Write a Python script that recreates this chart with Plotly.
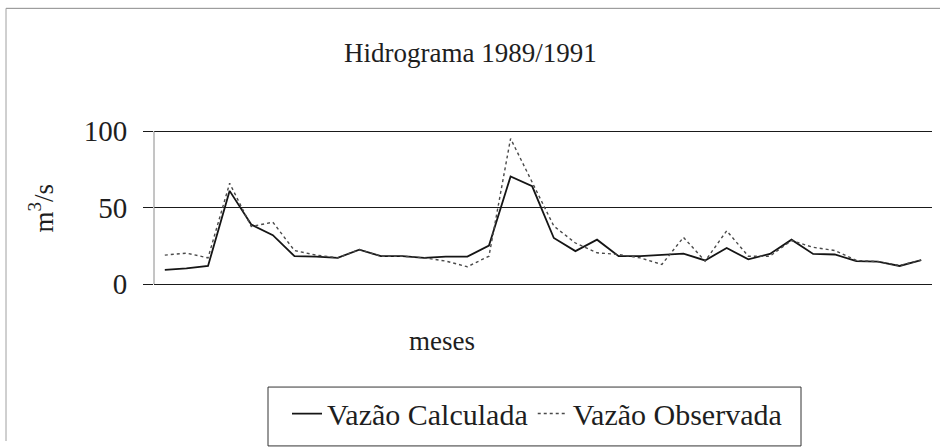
import plotly.graph_objects as go

# Monthly discharge, 1989-1991 (36 months)
meses = list(range(1, 37))

vazao_calculada = [9.3, 10.3, 11.9, 61.0, 39.0, 32.0, 18.3, 18.0, 17.2, 22.6,
                   18.3, 18.3, 17.2, 18.0, 18.0, 25.2, 70.4, 64.0, 30.2, 21.6,
                   29.1, 18.3, 18.3, 19.0, 20.0, 15.5, 23.7, 16.2, 19.8, 29.1,
                   19.8, 19.4, 15.1, 14.7, 11.9, 15.7]

vazao_observada = [19.0, 20.3, 17.2, 66.0, 37.7, 40.5, 22.0, 19.0, 17.2, 22.6,
                   18.3, 18.3, 17.2, 15.1, 11.4, 18.3, 95.2, 67.0, 38.0, 26.9,
                   20.5, 19.4, 17.2, 12.9, 30.6, 15.1, 34.9, 18.3, 18.3, 28.5,
                   24.1, 22.0, 15.5, 14.7, 12.2, 15.7]

y_ticks = [0, 50, 100]

FONT = "Liberation Serif, Times New Roman, serif"
INK = "#1e1e1e"

fig = go.Figure()
fig.add_trace(go.Scatter(
    x=meses, y=vazao_calculada, mode="lines", name="Vazão Calculada",
    line=dict(color="#151515", width=1.8),
))
fig.add_trace(go.Scatter(
    x=meses, y=vazao_observada, mode="lines", name="Vazão Observada",
    line=dict(color="#4a4a4a", width=1.4, dash="dot"),
))

W, H = 940, 447
L, R, T, B = 154, 8, 130, 158
pw, ph = W - L - R, H - T - B

def px_x(p):
    return (p - L) / pw

def px_y(p):
    return (H - B - p) / ph

def label(text, x, y, angle=0):
    return dict(text=text, xref="paper", yref="paper",
                x=px_x(x), y=px_y(y), xanchor="center", yanchor="middle",
                showarrow=False, textangle=angle,
                font=dict(family=FONT, size=27, color=INK))

fig.update_layout(
    width=W, height=H,
    margin=dict(l=L, r=R, t=T, b=B, pad=0),
    paper_bgcolor="white", plot_bgcolor="white",
    font=dict(family=FONT, color=INK, size=26),
    showlegend=True,
    legend=dict(
        orientation="h", xanchor="left", yanchor="middle",
        x=px_x(287), y=px_y(419),
        borderwidth=0, bgcolor="rgba(0,0,0,0)",
        font=dict(family=FONT, size=30, color=INK),
        itemwidth=30, tracegroupgap=0,
    ),
    xaxis=dict(
        range=[0.5, 36.5], showticklabels=False, ticks="",
        showgrid=False, zeroline=False, showline=False,
    ),
    yaxis=dict(
        range=[-1.2, 100.8], tickvals=y_ticks, ticktext=[str(v) for v in y_ticks],
        showgrid=True, gridcolor="#1a1a1a", gridwidth=1.2,
        zeroline=True, zerolinecolor="#1a1a1a", zerolinewidth=1.2,
        showline=False,
        ticks="outside", ticklen=10, tickcolor="#1a1a1a",
        ticklabelstandoff=10,
        tickfont=dict(family=FONT, size=29, color=INK),
    ),
    annotations=[
        label("Hidrograma 1989/1991", 470, 52),
        label("m<sup>3</sup>/s", 42, 210, angle=-90),
        label("meses", 442, 345),
    ],
    shapes=[
        # value-axis line, spanning 0 to 100
        dict(type="line", xref="paper", yref="y",
             x0=0, y0=0, x1=0, y1=100,
             line=dict(color="#8a8a8a", width=1)),
        # chart-area border (top and left edges in view)
        dict(type="line", xref="paper", yref="paper",
             x0=px_x(6), y0=px_y(6), x1=px_x(940), y1=px_y(6),
             line=dict(color="#8a8a8a", width=1)),
        dict(type="line", xref="paper", yref="paper",
             x0=px_x(6), y0=px_y(6), x1=px_x(6), y1=px_y(447),
             line=dict(color="#a0a0a0", width=1)),
        # legend frame
        dict(type="rect", xref="paper", yref="paper",
             x0=px_x(268), y0=px_y(392), x1=px_x(801), y1=px_y(452),
             line=dict(color="#333333", width=1)),
    ],
)

fig.write_html("out.html")
